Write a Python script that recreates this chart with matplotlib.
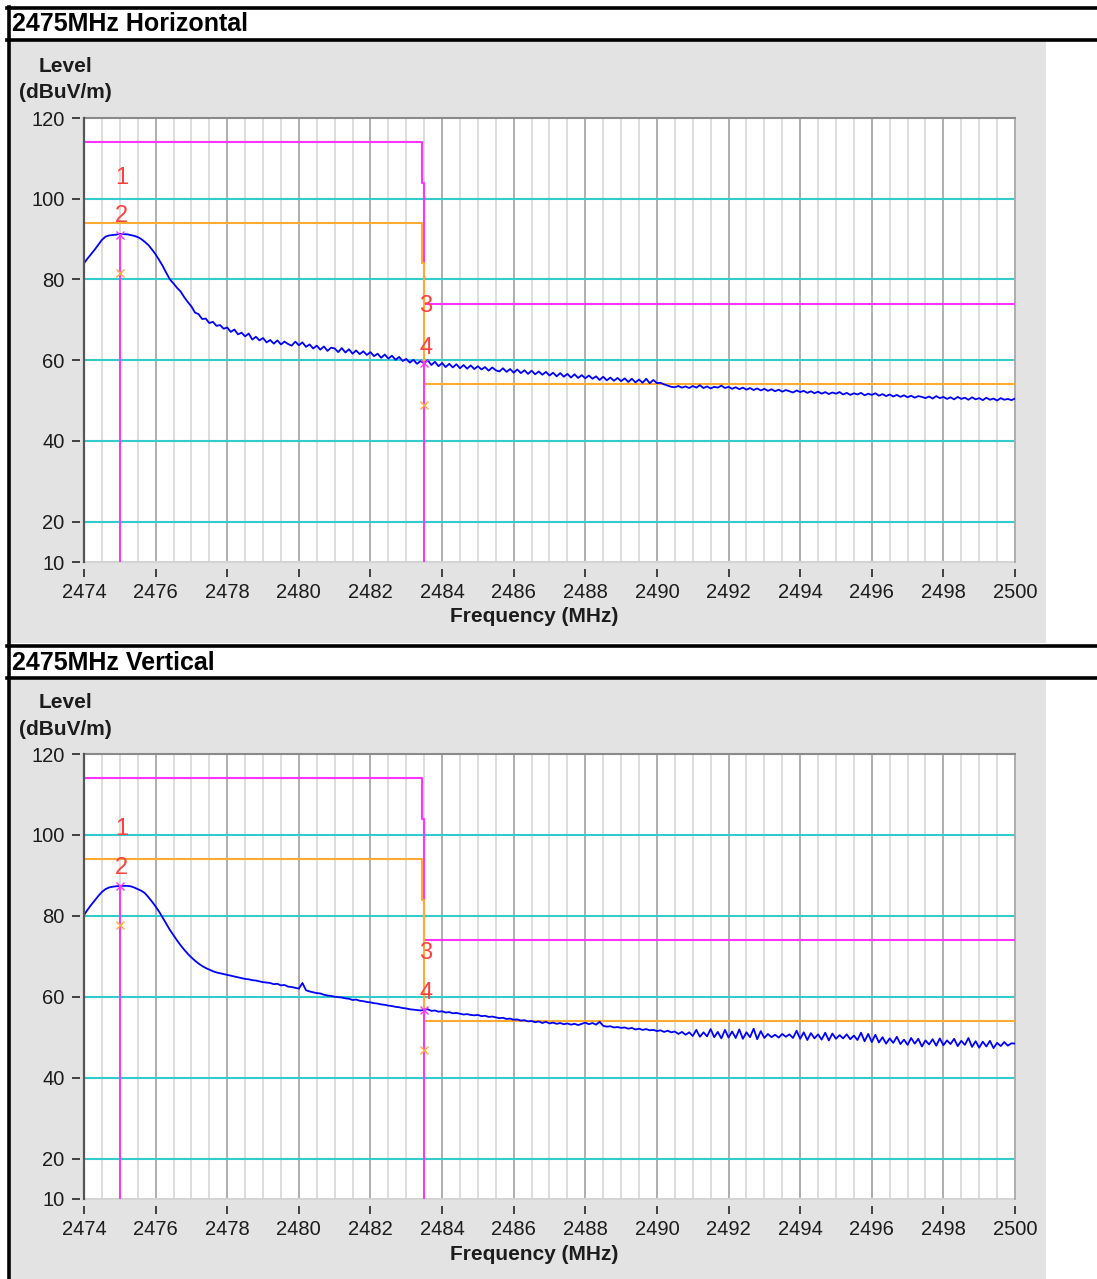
import numpy as np
import matplotlib
matplotlib.use("Agg")
import matplotlib.pyplot as plt
from matplotlib.patches import Rectangle
from matplotlib.lines import Line2D

plt.rcParams['font.family'] = ['Liberation Sans', 'DejaVu Sans']

# ---------------- data ----------------
freq = np.round(np.arange(2474.0, 2500.0001, 0.1), 1)

level_h = [
    84.0, 85.2, 86.3, 87.4, 88.6, 89.8, 90.6, 90.9, 91.0, 91.1,
    91.3, 91.2, 91.2, 91.0, 90.8, 90.5, 90.0, 89.3, 88.5, 87.4,
    86.2, 84.8, 83.3, 81.6, 80.0, 79.0, 77.9, 77.0, 75.6, 74.4,
    73.3, 71.8, 71.4, 70.2, 70.3, 69.2, 69.5, 68.5, 68.7, 67.8,
    68.1, 67.0, 67.6, 66.4, 66.8, 65.9, 66.6, 65.1, 65.8, 64.9,
    65.5, 64.4, 65.0, 64.1, 64.9, 63.9, 64.6, 64.0, 63.6, 64.6,
    63.7, 64.4, 63.3, 63.9, 62.9, 63.6, 62.6, 63.4, 62.3, 63.1,
    62.9, 62.0, 63.0, 61.9, 62.7, 61.6, 62.4, 61.5, 62.2, 61.3,
    62.0, 61.0, 61.6, 60.6, 61.4, 60.4, 61.1, 60.1, 60.8, 59.8,
    60.3, 59.4, 60.1, 59.1, 59.8, 59.2, 60.0, 58.8, 59.6, 58.5,
    59.3, 58.3, 59.1, 58.2, 59.0, 58.0, 58.8, 57.9, 58.7, 57.8,
    58.5, 57.7, 58.3, 57.4, 58.2, 57.5, 57.2, 58.0, 57.1, 57.8,
    56.9, 57.7, 56.8, 57.5, 56.6, 57.4, 56.5, 57.2, 56.4, 57.1,
    56.2, 56.9, 56.0, 56.8, 55.9, 56.6, 55.7, 56.5, 55.6, 56.3,
    55.5, 56.2, 55.4, 56.0, 55.1, 55.9, 55.0, 55.7, 54.9, 55.6,
    54.8, 55.5, 54.6, 55.4, 54.5, 55.2, 54.4, 55.4, 54.3, 55.1,
    54.3, 54.4, 54.0, 53.7, 53.4, 53.3, 53.6, 53.2, 53.5, 53.1,
    53.6, 53.2, 53.8, 53.1, 53.5, 53.0, 53.4, 53.2, 53.7, 53.1,
    53.4, 52.9, 53.3, 52.8, 53.2, 52.7, 53.1, 52.6, 53.0, 52.5,
    52.9, 52.4, 52.8, 52.3, 52.7, 52.2, 52.6, 52.3, 52.0, 52.5,
    52.1, 52.4, 51.9, 52.3, 51.8, 52.2, 51.7, 52.1, 51.6, 52.0,
    51.7, 52.1, 51.5, 51.9, 51.4, 51.8, 51.5, 51.9, 51.3, 51.7,
    51.4, 51.8, 51.2, 51.6, 51.1, 51.5, 51.0, 51.4, 50.9, 51.3,
    50.8, 51.2, 50.7, 51.1, 50.9, 50.6, 51.0, 50.5, 51.1, 50.6,
    50.9, 50.4, 50.8, 50.3, 50.9, 50.4, 50.7, 50.2, 50.8, 50.3,
    50.6, 50.1, 50.7, 50.2, 50.5, 50.0, 50.6, 50.2, 50.4, 50.1,
    50.5,
]

level_v = [
    80.2, 81.5, 82.7, 83.8, 84.9, 85.9, 86.6, 87.0, 87.2, 87.3,
    87.4, 87.4, 87.4, 87.3, 87.0, 86.6, 86.2, 85.6, 84.6, 83.5,
    82.3, 81.0, 79.5, 78.0, 76.5, 75.2, 73.9, 72.7, 71.6, 70.6,
    69.7, 68.9, 68.2, 67.6, 67.1, 66.7, 66.3, 66.0, 65.8, 65.6,
    65.4, 65.2, 65.0, 64.8, 64.6, 64.4, 64.3, 64.1, 64.0, 63.8,
    63.6, 63.5, 63.4, 63.1, 63.2, 62.8, 62.9, 62.5, 62.4, 62.2,
    62.0, 63.4, 61.6, 61.3, 61.1, 60.9, 60.8, 60.5, 60.3, 60.2,
    60.0, 59.9, 59.8, 59.6, 59.5, 59.2, 59.3, 59.0, 58.9, 58.7,
    58.6, 58.4, 58.3, 58.1, 58.0, 57.8, 57.7, 57.5, 57.4, 57.2,
    57.1, 56.9, 56.8, 56.7, 56.6, 56.8, 56.9, 56.5, 56.6, 56.3,
    56.4, 56.1, 56.2, 55.9, 56.0, 55.8, 55.6, 55.7, 55.5, 55.4,
    55.5, 55.2, 55.3, 55.0, 55.1, 54.9, 54.7, 54.8, 54.5, 54.6,
    54.3, 54.4, 54.1, 54.2, 53.9, 54.0, 53.7, 53.9, 53.5, 53.8,
    53.4, 53.6, 53.3, 53.5, 53.2, 53.4, 53.1, 53.3, 53.0, 53.3,
    53.6, 53.2, 53.5, 53.1, 53.8, 52.8, 52.6, 52.7, 52.4, 52.5,
    52.3, 52.4, 52.1, 52.3, 51.9, 52.1, 51.8, 52.0, 51.7, 51.8,
    51.5, 51.7, 51.3, 51.6, 51.2, 51.4, 50.8, 51.3, 50.6, 51.2,
    50.3, 51.8, 50.1, 51.2, 50.2, 52.0, 50.0, 51.3, 49.7, 51.8,
    49.9, 51.4, 49.8, 51.9, 49.6, 51.2, 50.0, 52.1, 49.5, 51.5,
    49.8, 50.8, 50.0, 50.6, 49.9, 50.8, 50.1, 50.7, 49.8, 51.6,
    49.6, 51.2, 49.3, 51.0, 49.7, 50.7, 49.4, 51.1, 49.2, 50.9,
    49.6, 50.5, 49.7, 50.7, 49.5, 50.4, 49.3, 51.1, 49.0, 50.8,
    48.8, 50.6, 48.7, 50.0, 48.4, 49.7, 48.6, 50.1, 48.3, 49.4,
    48.1, 49.8, 48.4, 49.6, 47.7, 49.2, 48.2, 49.5, 47.9, 49.7,
    48.0, 49.2, 48.3, 49.6, 47.8, 49.1, 48.1, 49.8, 47.6, 49.0,
    47.4, 48.9, 47.7, 49.1, 47.3, 48.6, 47.8, 48.8, 47.9, 48.5,
    48.4,
]

limit_freq = [2474.0, 2483.44, 2483.44, 2483.5, 2483.5, 2500.0]
peak_limit = [114, 114, 104, 104, 74, 74]
avg_limit = [94, 94, 84, 84, 54, 54]

marker_freq = [2475.0, 2475.0, 2483.5, 2483.5]
marker_labels = ["1", "2", "3", "4"]
marker_kind = ["peak", "avg", "peak", "avg"]
markers_h = [91.1, 81.5, 59.3, 48.9]
markers_v = [87.4, 77.8, 56.8, 46.9]

titles = ["2475MHz Horizontal", "2475MHz Vertical"]
x_ticks = list(range(2474, 2501, 2))
y_ticks = [10, 20, 40, 60, 80, 100, 120]
cyan_grid = [20, 40, 60, 80, 100]
minor_grid = [2474 + 0.5 * i for i in range(1, 52)]

# ---------------- styling ----------------
W, H = 1097, 1279
MAG = '#ff33ff'
ORA = '#ffaa33'
BLUE = '#0000ff'
CYAN = '#33cccc'
RED = '#ff4040'
PANEL = '#e3e3e3'
TXT = '#1c1c1c'

fig = plt.figure(figsize=(W / 100, H / 100), dpi=100)
fig.patch.set_facecolor('white')


def fx(px):
    return px / W


def fy(py):
    return 1 - py / H


def hline(y, x0=7, x1=W, lw=2.6):
    fig.add_artist(Line2D([fx(x0), fx(x1)], [fy(y), fy(y)], color='black',
                          lw=lw, transform=fig.transFigure, zorder=5))


panels = [(41, 643), (680, 1279)]
title_y = [24, 663]
title_lines = [(8, 39.5), (645.5, 678)]
axes_box = [(118, 562), (754, 1199)]
level_y = [(66, 92), (703, 729)]
freq_label_y = [617, 1254]

for p, (t, b) in enumerate(panels):
    fig.add_artist(Rectangle((fx(10), fy(b)), fx(1046) - fx(10), (b - t) / H,
                             facecolor=PANEL, edgecolor='none',
                             transform=fig.transFigure, zorder=0))

for a, b in title_lines:
    hline(a)
    hline(b)
fig.add_artist(Line2D([fx(8.5), fx(8.5)], [fy(6.5), fy(H)], color='black',
                      lw=2.6, transform=fig.transFigure, zorder=5))

series = [level_h, level_v]
markers = [markers_h, markers_v]

for p in range(2):
    fig.text(fx(12), fy(title_y[p]), titles[p], fontsize=18, fontweight='bold',
             ha='left', va='center', color='black')
    top, bot = axes_box[p]
    ax = fig.add_axes([fx(84), fy(bot), fx(1015) - fx(84), (bot - top) / H])
    ax.set_facecolor('white')
    ax.set_xlim(2474, 2500)
    ax.set_ylim(10, 120)

    for g in minor_grid:
        col = '#a8a8a8' if abs(g - round(g)) < 1e-9 and int(round(g)) % 2 == 0 else '#dadada'
        ax.axvline(g, color=col, lw=1.3, zorder=1)
    for g in cyan_grid:
        ax.axhline(g, color=CYAN, lw=1.5, zorder=1.5)
    ax.axhline(10, color='#d4d4d4', lw=1.5, zorder=1.5, clip_on=False)
    ax.axvline(2474, color='#555555', lw=1.6, zorder=6, clip_on=False)

    ax.plot(limit_freq, peak_limit, color=MAG, lw=1.5, zorder=3)
    ax.plot(limit_freq, avg_limit, color=ORA, lw=1.5, zorder=3.1)

    ax.plot(freq, series[p], color=BLUE, lw=1.3, zorder=4)

    mk = markers[p]
    peak_vals = [v for v, k in zip(mk, marker_kind) if k == 'peak']
    peak_fr = [f for f, k in zip(marker_freq, marker_kind) if k == 'peak']
    ax.vlines(peak_fr, 10, peak_vals, color=MAG, lw=1.4, zorder=3.5)
    for f, v, lab, k in zip(marker_freq, mk, marker_labels, marker_kind):
        ax.plot([f], [v], marker='x', ms=6, mew=1.0,
                color=MAG if k == 'peak' else ORA, zorder=5, linestyle='none')
        ax.annotate(lab, (f, v), xytext=(1.2, 41), textcoords='offset points',
                    ha='center', va='center', color=RED, fontsize=17, zorder=6)

    ax.spines['top'].set_color('#8a8a8a')
    ax.spines['top'].set_linewidth(1.5)
    ax.spines['right'].set_color('#a8a8a8')
    ax.spines['right'].set_linewidth(1.3)
    ax.spines['left'].set_position(('outward', 3))
    ax.spines['left'].set_visible(False)
    ax.spines['bottom'].set_position(('outward', 5))
    ax.spines['bottom'].set_visible(False)
    ax.set_xticks(x_ticks)
    ax.set_yticks(y_ticks)
    ax.tick_params(axis='both', direction='out', length=6, width=1.3,
                   color='#333333', labelsize=14.5, labelcolor=TXT, pad=4)
    ax.tick_params(axis='y', pad=5)

    ly1, ly2 = level_y[p]
    fig.text(fx(65), fy(ly1), 'Level', fontsize=15, fontweight='bold',
             ha='center', va='center', color=TXT)
    fig.text(fx(65), fy(ly2), '(dBuV/m)', fontsize=15, fontweight='bold',
             ha='center', va='center', color=TXT)
    fig.text(fx(534), fy(freq_label_y[p]), 'Frequency (MHz)', fontsize=15,
             fontweight='bold', ha='center', va='center', color=TXT)

fig.savefig('out.png', dpi=100)
